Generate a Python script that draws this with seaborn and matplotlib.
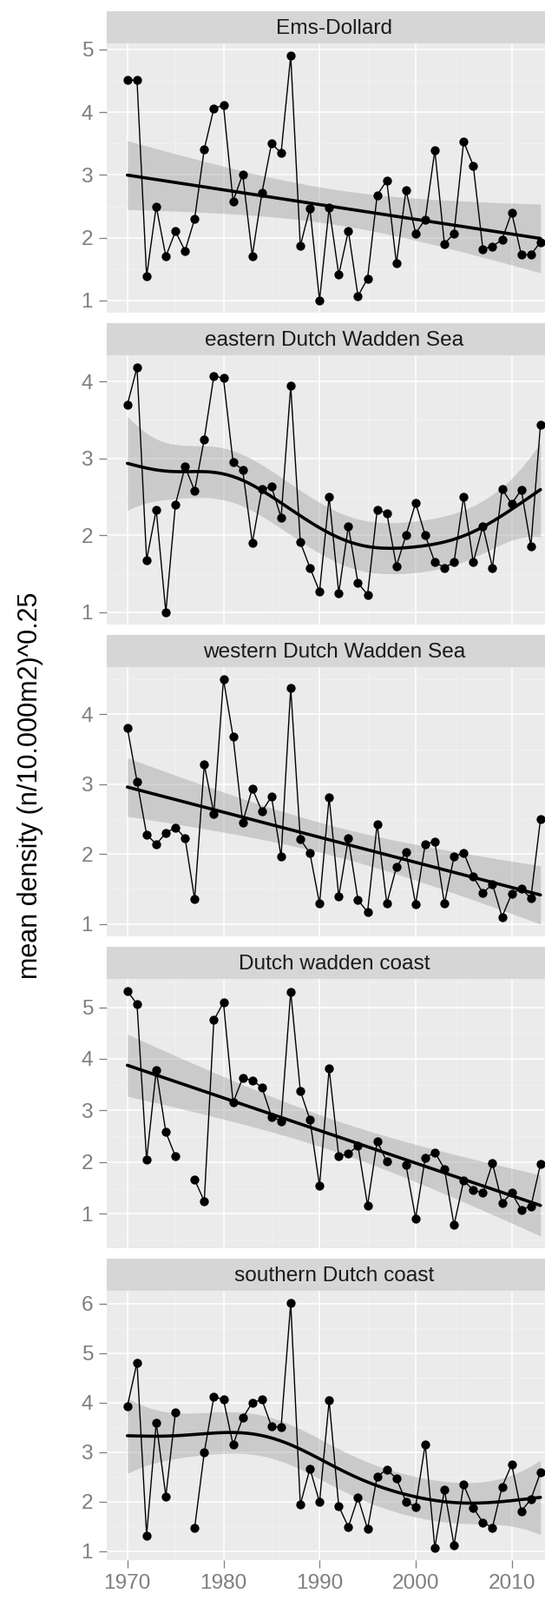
import numpy as np
import pandas as pd
import matplotlib
matplotlib.use("Agg")
import matplotlib.pyplot as plt
import seaborn as sns

# ---------------- data ----------------
years = list(range(1970, 2014))
nan = float("nan")

panel_titles = ["Ems-Dollard", "eastern Dutch Wadden Sea", "western Dutch Wadden Sea",
                "Dutch wadden coast", "southern Dutch coast"]

ems_dollard = [4.51, 4.51, 1.38, 2.50, 1.70, 2.10, 1.79, 2.30, 3.41, 4.06,
               4.11, 2.58, 3.01, 1.71, 2.71, 3.50, 3.35, 4.90, 1.87, 2.47,
               1.00, 2.48, 1.41, 2.11, 1.07, 1.35, 2.68, 2.91, 1.59, 2.76,
               2.07, 2.29, 3.39, 1.90, 2.07, 3.53, 3.15, 1.82, 1.86, 1.97,
               2.40, 1.73, 1.73, 1.93]
eastern_wadden = [3.70, 4.18, 1.68, 2.33, 1.00, 2.40, 2.89, 2.58, 3.25, 4.07,
                  4.04, 2.95, 2.85, 1.90, 2.60, 2.63, 2.23, 3.94, 1.91, 1.58,
                  1.27, 2.50, 1.25, 2.12, 1.38, 1.23, 2.33, 2.29, 1.60, 2.00,
                  2.42, 2.00, 1.65, 1.58, 1.65, 2.50, 1.65, 2.12, 1.58, 2.60,
                  2.41, 2.59, 1.86, 3.44]
western_wadden = [3.80, 3.04, 2.28, 2.14, 2.30, 2.38, 2.23, 1.35, 3.28, 2.58,
                  4.50, 3.68, 2.45, 2.94, 2.61, 2.82, 1.96, 4.38, 2.21, 2.01,
                  1.29, 2.81, 1.39, 2.22, 1.34, 1.17, 2.43, 1.29, 1.81, 2.03,
                  1.28, 2.14, 2.18, 1.29, 1.96, 2.02, 1.68, 1.44, 1.57, 1.10,
                  1.43, 1.50, 1.37, 2.50]
wadden_coast = [5.31, 5.06, 2.04, 3.78, 2.58, 2.11, nan, 1.66, 1.24, 4.75,
                5.09, 3.15, 3.63, 3.58, 3.45, 2.88, 2.79, 5.30, 3.38, 2.82,
                1.54, 3.81, 2.11, 2.16, 2.32, 1.16, 2.40, 2.01, nan, 1.94,
                0.91, 2.08, 2.19, 1.87, 0.78, 1.64, 1.46, 1.40, 1.98, 1.21,
                1.40, 1.08, 1.14, 1.96]
southern_coast = [3.93, 4.81, 1.32, 3.60, 2.11, 3.80, nan, 1.47, 2.99, 4.12,
                  4.06, 3.15, 3.69, 4.00, 4.06, 3.52, 3.50, 6.01, 1.94, 2.67,
                  1.99, 4.04, 1.91, 1.49, 2.08, 1.45, 2.51, 2.65, 2.47, 2.00,
                  1.90, 3.16, 1.07, 2.24, 1.12, 2.34, 1.88, 1.58, 1.48, 2.30,
                  2.75, 1.81, 2.05, 2.59]

series = [ems_dollard, eastern_wadden, western_wadden, wadden_coast, southern_coast]
# smoother per panel: straight line, or a penalised spline with the given effective df
smooth_edf = [1, 4.5, 1, 1, 4.0]
x_ticks = [1970, 1980, 1990, 2000, 2010]
y_label = "mean density (n/10.000m2)^0.25"


# ---------------- smoothers ----------------
def t975(df):
    z = 1.959963985
    g1 = (z**3 + z) / 4
    g2 = (5 * z**5 + 16 * z**3 + 3 * z) / 96
    g3 = (3 * z**7 + 19 * z**5 + 17 * z**3 - 15 * z) / 384
    g4 = (79 * z**9 + 776 * z**7 + 1482 * z**5 - 1920 * z**3 - 945 * z) / 92160
    return z + g1 / df + g2 / df**2 + g3 / df**3 + g4 / df**4


def lm_smooth(x, y, xs):
    n = len(x)
    b, a = np.polyfit(x, y, 1)
    res = y - (a + b * x)
    sigma = np.sqrt(np.sum(res**2) / (n - 2))
    sxx = np.sum((x - x.mean())**2)
    se = sigma * np.sqrt(1 / n + (xs - x.mean())**2 / sxx)
    fit = a + b * xs
    t = t975(n - 2)
    return fit, fit - t * se, fit + t * se


def tprs_smooth(x, y, xs, edf, k=10):
    """Rank-k thin plate regression spline (as mgcv's s(x)) at a given effective df."""
    c = x.mean()
    sx = (x - c) / 10.0
    sxs = (xs - c) / 10.0
    n = len(x)
    E = np.abs(sx[:, None] - sx[None, :])**3 / 12.0
    T = np.column_stack([np.ones(n), sx])
    d, U = np.linalg.eigh(E)
    idx = np.argsort(-np.abs(d))[:k]
    Dk, Uk = d[idx], U[:, idx]
    Q, _ = np.linalg.qr(Uk.T @ T, mode="complete")
    Zk = Q[:, 2:]
    X = np.column_stack([Uk @ np.diag(Dk) @ Zk, T])
    S = np.zeros((X.shape[1], X.shape[1]))
    S[:k - 2, :k - 2] = Zk.T @ np.diag(Dk) @ Zk
    Enew = np.abs(sxs[:, None] - sx[None, :])**3 / 12.0
    Xn = np.column_stack([Enew @ Uk @ Zk, np.ones(len(xs)), sxs])

    def solve(lam):
        M = np.linalg.inv(X.T @ X + lam * S)
        A = X @ M @ X.T
        return M, np.trace(A), A

    lo_l, hi_l = -8.0, 8.0
    for _ in range(80):
        mid = 0.5 * (lo_l + hi_l)
        _, tr, _ = solve(10**mid)
        if tr > edf:
            lo_l = mid
        else:
            hi_l = mid
    M, tr, A = solve(10**(0.5 * (lo_l + hi_l)))
    beta = M @ X.T @ y
    r = y - A @ y
    sig2 = (r @ r) / (n - tr)
    se = np.sqrt(np.sum((Xn @ M) * Xn, axis=1) * sig2)
    fit = Xn @ beta
    mult = 1.645
    return fit, fit - mult * se, fit + mult * se


# ---------------- figure ----------------
sns.set_theme(style="darkgrid")
plt.rcParams["font.family"] = ["Liberation Sans", "DejaVu Sans"]

W_PX, H_PX = 628, 1842
fig = plt.figure(figsize=(W_PX / 100, H_PX / 100), dpi=100)
fig.patch.set_facecolor("white")

left_px, right_px = 123, 628
x_lo, x_hi = 1967.85, 1967.85 + (right_px - left_px) / 11.07
strip_h, panel_h, gap, top0 = 37, 310, 12, 13

for i, (title, vals, edf) in enumerate(zip(panel_titles, series, smooth_edf)):
    top = top0 + i * (strip_h + panel_h + gap)
    sax = fig.add_axes([left_px / W_PX, 1 - (top + strip_h) / H_PX,
                        (right_px - left_px) / W_PX, strip_h / H_PX])
    ax = fig.add_axes([left_px / W_PX, 1 - (top + strip_h + panel_h) / H_PX,
                       (right_px - left_px) / W_PX, panel_h / H_PX])

    df = pd.DataFrame({"year": years, "value": vals})
    df["seg"] = df["value"].isna().cumsum()
    dfc = df.dropna()
    xv = dfc["year"].to_numpy(float)
    yv = dfc["value"].to_numpy(float)
    xs = np.linspace(xv.min(), xv.max(), 80)
    if edf == 1:
        fit, lo, hi = lm_smooth(xv, yv, xs)
    else:
        fit, lo, hi = tprs_smooth(xv, yv, xs, edf)

    ax.set_facecolor("#EBEBEB")
    ax.fill_between(xs, lo, hi, color="#999999", alpha=0.4, lw=0, zorder=2)
    sns.lineplot(data=dfc, x="year", y="value", units="seg", estimator=None,
                 color="black", lw=1.0, ax=ax, legend=False, zorder=3)
    sns.scatterplot(data=dfc, x="year", y="value", color="black", s=55,
                    linewidth=0, ax=ax, legend=False, zorder=4)
    sns.lineplot(x=xs, y=fit, color="black", lw=2.6, ax=ax, zorder=5)

    lo_all = min(yv.min(), lo.min())
    hi_all = max(yv.max(), hi.max())
    pad = 0.05 * (hi_all - lo_all)
    y0, y1 = lo_all - pad, hi_all + pad
    ax.set_ylim(y0, y1)
    ax.set_xlim(x_lo, x_hi)

    yt = list(range(int(np.ceil(y0)), int(np.floor(y1)) + 1))
    ax.set_yticks(yt)
    ax.set_yticks([v + 0.5 for v in range(int(np.floor(y0)), int(np.floor(y1)) + 1)
                   if y0 < v + 0.5 < y1], minor=True)
    ax.set_xticks(x_ticks)
    ax.set_xticks([1975, 1985, 1995, 2005], minor=True)
    ax.grid(which="major", color="white", lw=1.1)
    ax.grid(which="minor", color="#F4F4F4", lw=0.5)
    ax.set_axisbelow(True)
    for s in ax.spines.values():
        s.set_visible(False)
    ax.tick_params(axis="both", which="major", length=6.5, width=0.9, color="#7F7F7F",
                   labelcolor="#7F7F7F", labelsize=17.6, pad=5, left=True, bottom=True)
    ax.tick_params(axis="both", which="minor", length=0)
    ax.set_xlabel("")
    ax.set_ylabel("")
    if i < 4:
        ax.tick_params(axis="x", which="major", labelbottom=False, bottom=False)

    sax.set_facecolor("#D6D6D6")
    sax.set_xlim(x_lo, x_hi)
    sax.set_ylim(0, 1)
    sax.set_xticks([])
    sax.set_yticks([])
    sax.grid(False)
    for s in sax.spines.values():
        s.set_visible(False)
    sax.text((1967.85 + 2015.15) / 2, 0.47, title, ha="center", va="center",
             fontsize=17.6, color="#1A1A1A", clip_on=False)

fig.text(35 / W_PX, 1 - 904.5 / H_PX, y_label, rotation=90, ha="center", va="center",
         fontsize=22, color="black")

fig.savefig("out.png", dpi=100)
